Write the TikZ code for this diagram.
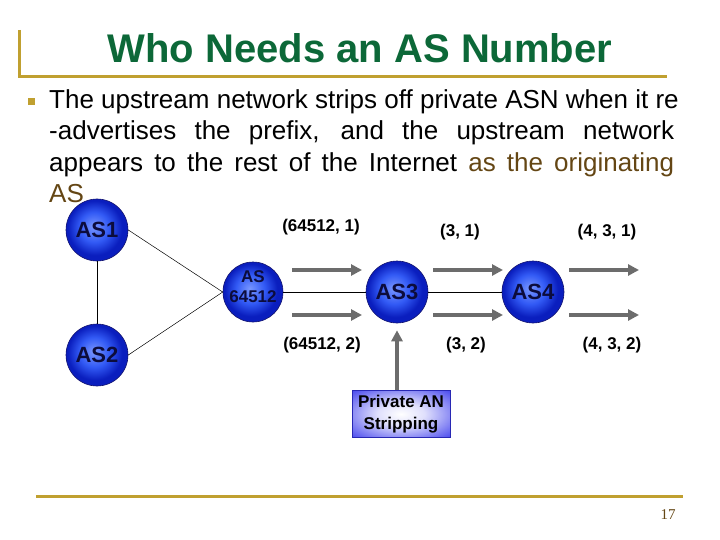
\documentclass[tikz,border=0pt]{standalone}
\usepackage{fontspec}
\setmainfont{Liberation Sans}
\newfontfamily\pagenofont{Liberation Serif}
\usetikzlibrary{arrows.meta}
\definecolor{gold}{RGB}{192,160,48}
\definecolor{titlegreen}{RGB}{12,104,56}
\definecolor{brownt}{RGB}{100,70,20}
\definecolor{arrowgray}{RGB}{108,108,108}
\definecolor{navytext}{RGB}{12,12,60}
\definecolor{balllight}{RGB}{120,150,255}
\definecolor{ballmid}{RGB}{50,90,245}
\definecolor{balldark}{RGB}{10,30,190}
\definecolor{ballrim}{RGB}{20,20,110}
\definecolor{boxblue}{RGB}{45,45,235}
\pgfdeclareradialshading{spherefill}{\pgfpoint{-3bp}{3bp}}{color(0bp)=(balllight); color(12bp)=(ballmid); color(22bp)=(balldark); color(26bp)=(balldark); color(50bp)=(balldark)}
\pgfdeclareradialshading{boxfill}{\pgfpoint{0bp}{0bp}}{color(0bp)=(white); color(12bp)=(white!85!boxblue); color(40bp)=(boxblue); color(50bp)=(boxblue)}
\begin{document}
\begin{tikzpicture}[x=1pt,y=-1pt,
  asnode/.style={circle, minimum size=62pt, inner sep=0pt, draw=ballrim, line width=0.6pt,
    shading=spherefill, text=navytext,
    font=\bfseries\fontsize{22}{22}\selectfont},
  smallas/.style={font=\bfseries\fontsize{17}{20}\selectfont, align=center},
  pathlabel/.style={font=\bfseries\fontsize{17}{17}\selectfont, text=black},
  flow/.style={draw=arrowgray, line width=4pt, -{Triangle[length=11pt,width=11pt]}},
  link/.style={draw=black, line width=0.5pt},
  bodytext/.style={anchor=base west, inner sep=0pt, font=\fontsize{26}{30}\selectfont},
  goldline/.style={draw=gold, line width=3pt}
]
\useasboundingbox (0,0) rectangle (720,540);
% title
\draw[goldline] (19,30) -- (19,77) -- (667,77);
\node[font=\bfseries\fontsize{40}{40}\selectfont, text=titlegreen] (title) at (360,48) {Who Needs an AS Number};
% bullet text
\fill[gold] (28,98) rectangle (35,105);
\node[bodytext] (l1) at (49,109) {The upstream network strips off private ASN when it re};
\node[bodytext] (l2) at (49,140) {\makebox[625pt][s]{-advertises the prefix, and the upstream network}};
\node[bodytext] (l3) at (49,172) {\makebox[625pt][s]{appears to the rest of the Internet \textcolor{brownt}{as the originating}}};
\node[bodytext, text=brownt] (l4) at (49,203) {AS};
% nodes
\node[asnode] (as1) at (97,230) {AS1};
\node[asnode] (as2) at (97,355) {AS2};
\node[asnode, minimum size=60pt] (as64) at (253,292) {};
\node[smallas, text=navytext] (as64t) at (253,287) {AS\\64512};
\node[asnode] (as3) at (397,292) {AS3};
\node[asnode] (as4) at (533,292) {AS4};
\node[rectangle, minimum width=98pt, minimum height=47pt, inner sep=0pt,
  shading=boxfill,
  draw={rgb,255:red,40;green,40;blue,180}, line width=0.5pt,
  font=\bfseries\fontsize{17}{22}\selectfont, align=center, text=black] (strip) at (401,414) {Private AN\\Stripping};
% links
\draw[link] (as1) -- (as2);
\draw[link] (as1.east) -- (as64.west);
\draw[link] (as2.east) -- (as64.west);
\draw[link] (as64.east) -- (as3.west);
\draw[link] (as3.east) -- (as4.west);
% flow arrows
\coordinate (a1s) at (292,270); \coordinate (a1e) at (362,270);
\coordinate (a2s) at (292,315); \coordinate (a2e) at (362,315);
\coordinate (b1s) at (433,270); \coordinate (b1e) at (503,270);
\coordinate (b2s) at (433,315); \coordinate (b2e) at (503,315);
\coordinate (c1s) at (569,270); \coordinate (c1e) at (639,270);
\coordinate (c2s) at (569,315); \coordinate (c2e) at (639,315);
\draw[flow] (a1s) -- (a1e);
\draw[flow] (a2s) -- (a2e);
\draw[flow] (b1s) -- (b1e);
\draw[flow] (b2s) -- (b2e);
\draw[flow] (c1s) -- (c1e);
\draw[flow] (c2s) -- (c2e);
\draw[flow, shorten >=7pt] (strip.north -| as3.south) -- (as3.south);
% labels
\node[pathlabel] (p1) at (321,227) {(64512, 1)};
\node[pathlabel] (p2) at (460,232) {(3, 1)};
\node[pathlabel] (p3) at (607,232) {(4, 3, 1)};
\node[pathlabel] (p4) at (322,345) {(64512, 2)};
\node[pathlabel] (p5) at (466,345) {(3, 2)};
\node[pathlabel] (p6) at (612,345) {(4, 3, 2)};
% footer
\draw[goldline] (36,496) -- (683,496);
\node[font=\pagenofont\fontsize{15}{15}\selectfont, text=brownt] (pg) at (668,515) {17};
\end{tikzpicture}
\end{document}
